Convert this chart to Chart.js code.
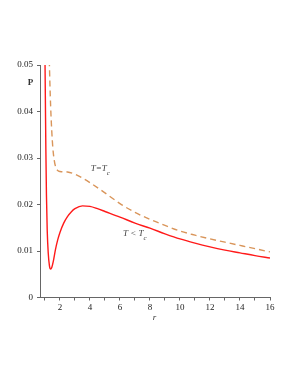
<!DOCTYPE html>
<html>
<head>
<meta charset="utf-8">
<script src="https://cdn.jsdelivr.net/npm/chart.js@4/dist/chart.umd.min.js"></script>
<style>
  html, body { margin: 0; padding: 0; background: #fff; }
  #wrap { width: 296px; height: 383px; }
</style>
</head>
<body>
<div id="wrap"><canvas id="canvas" width="296" height="383"></canvas></div>
<script>
// r values and pressures
var R_LOW = [1.00, 1.03, 1.06, 1.10, 1.15, 1.22, 1.30, 1.38, 1.46, 1.56, 1.70, 1.85, 2.0, 2.25, 2.5, 2.75, 3.0, 3.5, 4.0, 4.5, 5, 6, 7, 8, 9, 10, 11, 12, 13, 14, 15, 16];
var P_LOW = [0.052, 0.042, 0.032, 0.022, 0.0145, 0.0095, 0.0068, 0.0061, 0.0065, 0.0078, 0.0103, 0.0124, 0.0140, 0.0160, 0.0174, 0.0184, 0.0191, 0.0197, 0.0196, 0.0191, 0.0185, 0.0173, 0.0160, 0.0149, 0.0137, 0.0126, 0.0117, 0.0109, 0.0102, 0.0096, 0.0090, 0.0085];

var R_CRIT = [1.29, 1.33, 1.38, 1.45, 1.53, 1.62, 1.72, 1.85, 2.0, 2.5, 3.0, 3.5, 4, 5, 6, 7, 8, 9, 10, 11, 12, 13, 14, 15, 16];
var P_CRIT = [0.051, 0.046, 0.041, 0.036, 0.032, 0.0295, 0.0280, 0.0273, 0.0271, 0.0270, 0.0265, 0.0257, 0.0247, 0.0225, 0.0202, 0.0183, 0.0168, 0.0155, 0.0143, 0.0134, 0.0126, 0.0119, 0.0112, 0.0105, 0.0098];

var X_TICKS = [1, 2, 3, 4, 5, 6, 7, 8, 9, 10, 11, 12, 13, 14, 15, 16];
var X_LABELS = [2, 4, 6, 8, 10, 12, 14, 16];
var Y_TICKS = [0, 0.01, 0.02, 0.03, 0.04, 0.05];

function pts(xs, ys) {
  return xs.map(function(x, i) { return { x: x, y: ys[i] }; });
}

var serif = '"Liberation Serif", "DejaVu Serif", serif';

// labels drawn on top: axis names and curve captions
var textPlugin = {
  id: 'texts',
  afterDraw: function(chart) {
    var c = chart.ctx;
    var xs = chart.scales.x, ys = chart.scales.y;
    c.save();
    c.fillStyle = '#333';
    c.textBaseline = 'alphabetic';
    c.font = 'bold 9px ' + serif;
    c.textAlign = 'center';
    c.fillText('P', 30.5, 85);
    c.font = 'italic 9px ' + serif;
    c.fillText('r', xs.getPixelForValue(8.3), 320);

    c.fillStyle = '#444';
    c.textAlign = 'left';
    var x1 = xs.getPixelForValue(4.05), y1 = ys.getPixelForValue(0.0272);
    c.font = 'italic 9px ' + serif;
    c.fillText('T=T', x1, y1);
    var w1 = c.measureText('T=T').width;
    c.font = 'italic 7px ' + serif;
    c.fillText('c', x1 + w1, y1 + 4);

    var x2 = xs.getPixelForValue(6.2), y2 = ys.getPixelForValue(0.0132);
    c.font = 'italic 9px ' + serif;
    c.fillText('T < T', x2, y2);
    var w2 = c.measureText('T < T').width;
    c.font = 'italic 7px ' + serif;
    c.fillText('c', x2 + w2, y2 + 4);
    c.restore();
  }
};

window.onload = function() {
  var ctx = document.getElementById('canvas').getContext('2d');
  window.myChart = new Chart(ctx, {
    type: 'scatter',
    data: {
      datasets: [
        {
          label: 'T < Tc',
          data: pts(R_LOW, P_LOW),
          showLine: true,
          borderColor: '#ff1a1a',
          borderWidth: 1.4,
          pointRadius: 0,
          cubicInterpolationMode: 'monotone'
        },
        {
          label: 'T = Tc',
          data: pts(R_CRIT, P_CRIT),
          showLine: true,
          borderColor: '#d9955a',
          borderWidth: 1.4,
          borderDash: [6, 4],
          pointRadius: 0,
          cubicInterpolationMode: 'monotone'
        }
      ]
    },
    options: {
      responsive: false,
      animation: false,
      layout: { padding: { left: 0, right: 26, top: 65, bottom: 0 } },
      plugins: {
        legend: { display: false },
        tooltip: { enabled: false }
      },
      scales: {
        x: {
          type: 'linear',
          min: 0.67,
          max: 16,
          afterFit: function(s) { s.height = 85.5; },
          afterBuildTicks: function(s) {
            s.ticks = X_TICKS.map(function(v) { return { value: v }; });
          },
          border: { color: '#666', width: 1 },
          grid: { drawOnChartArea: false, tickLength: 3, color: '#666' },
          ticks: {
            color: '#222',
            font: { family: serif, size: 9 },
            padding: 2,
            maxRotation: 0,
            autoSkip: false,
            callback: function(v) { return X_LABELS.indexOf(v) >= 0 ? String(v) : ''; }
          }
        },
        y: {
          type: 'linear',
          min: 0,
          max: 0.05,
          afterFit: function(s) { s.width = 40; },
          afterBuildTicks: function(s) {
            s.ticks = Y_TICKS.map(function(v) { return { value: v }; });
          },
          border: { color: '#666', width: 1 },
          grid: { drawOnChartArea: false, tickLength: 3, color: '#666' },
          ticks: {
            color: '#222',
            font: { family: serif, size: 9 },
            padding: 4,
            callback: function(v) { return v === 0 ? '0' : v.toFixed(2); }
          }
        }
      }
    },
    plugins: [textPlugin]
  });
};
</script>
</body>
</html>
